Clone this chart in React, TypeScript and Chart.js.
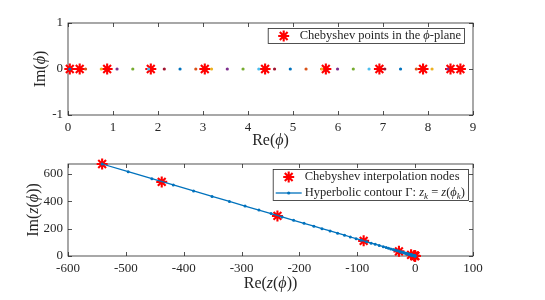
import React, { useEffect, useRef } from 'react';
import { Chart, registerables } from 'chart.js';

Chart.register(...registerables);

// ---------- data ----------
const phiStarsRe = [0.04, 0.26, 0.87, 1.84, 3.04, 4.38, 5.73, 6.92, 7.89, 8.5, 8.72];
const phiStarsIm = [0, 0, 0, 0, 0, 0, 0, 0, 0, 0, 0];
const phiDotsRe = [0.04, 0.39, 0.74, 1.09, 1.44, 1.79, 2.14, 2.49, 2.84, 3.19, 3.54, 3.89, 4.24,
  4.59, 4.94, 5.29, 5.64, 5.99, 6.34, 6.69, 7.04, 7.39, 7.74, 8.09, 8.44];
const phiDotsIm = [0, 0, 0, 0, 0, 0, 0, 0, 0, 0, 0, 0, 0, 0, 0, 0, 0, 0, 0, 0, 0, 0, 0, 0, 0];
const phiXTicks = [0, 1, 2, 3, 4, 5, 6, 7, 8, 9];
const phiYTicks = [-1, 0, 1];

const zStarsRe = [-541, -438, -238, -89, -28, -7, -1.8, -0.6, -0.2, -0.1, -0.1];
const zStarsIm = [673, 542, 293, 111, 34, 8.7, 2.3, 0.7, 0.3, 0.15, 0.1];
const zLineRe = [-541, -496, -455, -418, -383, -351, -321, -294, -270, -249, -230, -210, -192, -175,
  -161, -147, -134, -122, -112, -102, -93, -84, -76, -69, -62, -55, -50, -46, -42, -38, -35, -32,
  -29, -26, -24, -22, -20, -18, -16.5, -15, -13.8, -12.5, -11.5, -10.5, -9.6, -8.7, -8, -7.3, -6.6,
  -6, -5.5, -5, -4.6, -4.2, -3.5, -2.5, -1.8, -1.2, -0.8, -0.5, -0.3, -0.1];
const zLineIm = [673, 617, 566, 520, 476, 436, 399, 365, 336, 310, 286, 261, 239, 218,
  200, 183, 167, 152, 139, 127, 116, 104, 94, 86, 77, 68, 62, 57, 52, 47, 43.5, 40,
  36, 32, 30, 27, 25, 22.4, 20.5, 18.6, 17.2, 15.5, 14.3, 13, 11.9, 10.8, 9.9, 9.1, 8.2,
  7.5, 6.8, 6.2, 5.7, 5.2, 4.4, 3.1, 2.2, 1.5, 1.0, 0.6, 0.4, 0.12];
const zXTicks = [-600, -500, -400, -300, -200, -100, 0, 100];
const zYTicks = [0, 200, 400, 600];

// ---------- style ----------
const FONT = "'Liberation Serif', 'DejaVu Serif', 'Times New Roman', serif";
const AXIS_COLOR = '#262626';
const MATLAB_COLORS = ['#0072BD', '#D95319', '#EDB120', '#7E2F8E', '#77AC30', '#4DBEEE', '#A2142F'];
const RED = '#ff0000';
const BLUE = '#0072BD';
const STAR_R = 5.5;
const STAR_W = 2.1;

type Seg = { t: string; i?: boolean; s?: boolean };

function segFont(seg: Seg, size: number) {
  return `${seg.i ? 'italic ' : ''}${seg.s ? Math.round(size * 0.7) : size}px ${FONT}`;
}
function measureRich(ctx: CanvasRenderingContext2D, segs: Seg[], size: number) {
  let w = 0;
  for (const s of segs) {
    ctx.font = segFont(s, size);
    w += ctx.measureText(s.t).width;
  }
  return w;
}
function drawRich(ctx: CanvasRenderingContext2D, segs: Seg[], x: number, y: number, size: number) {
  ctx.textBaseline = 'middle';
  ctx.textAlign = 'left';
  let cx = x;
  for (const s of segs) {
    ctx.font = segFont(s, size);
    ctx.fillText(s.t, cx, s.s ? y + size * 0.28 : y);
    cx += ctx.measureText(s.t).width;
  }
}
function drawStar(ctx: CanvasRenderingContext2D, x: number, y: number, r: number) {
  ctx.save();
  ctx.strokeStyle = RED;
  ctx.lineWidth = STAR_W;
  ctx.beginPath();
  for (let k = 0; k < 4; k++) {
    const a = (k * Math.PI) / 4;
    ctx.moveTo(x - Math.cos(a) * r, y - Math.sin(a) * r);
    ctx.lineTo(x + Math.cos(a) * r, y + Math.sin(a) * r);
  }
  ctx.stroke();
  ctx.restore();
}

const framePlugin = {
  id: 'matlabFrame',
  beforeDatasetsDraw(chart: any) {
    const { ctx, chartArea: a, scales } = chart;
    ctx.save();
    ctx.strokeStyle = AXIS_COLOR;
    ctx.lineWidth = 0.8;
    ctx.strokeRect(a.left, a.top, a.right - a.left, a.bottom - a.top);
    const tl = 4;
    ctx.beginPath();
    for (const t of scales.x.ticks) {
      const px = Math.round(scales.x.getPixelForValue(t.value)) + 0.5;
      ctx.moveTo(px, a.bottom); ctx.lineTo(px, a.bottom - tl);
      ctx.moveTo(px, a.top); ctx.lineTo(px, a.top + tl);
    }
    for (const t of scales.y.ticks) {
      const py = Math.round(scales.y.getPixelForValue(t.value)) + 0.5;
      ctx.moveTo(a.left, py); ctx.lineTo(a.left + tl, py);
      ctx.moveTo(a.right, py); ctx.lineTo(a.right - tl, py);
    }
    ctx.stroke();
    ctx.restore();
  },
  afterDraw(chart: any, _args: any, opts: any) {
    const { ctx, chartArea: a } = chart;
    ctx.save();
    ctx.fillStyle = AXIS_COLOR;
    // axis titles
    const ts = opts.titleSize;
    const xw = measureRich(ctx, opts.xTitle, ts);
    drawRich(ctx, opts.xTitle, (a.left + a.right) / 2 - xw / 2, opts.xTitleY, ts);
    const yw = measureRich(ctx, opts.yTitle, ts);
    ctx.save();
    ctx.translate(opts.yTitleX, (a.top + a.bottom) / 2);
    ctx.rotate(-Math.PI / 2);
    drawRich(ctx, opts.yTitle, -yw / 2, 0, ts);
    ctx.restore();
    // legend
    const lg = opts.legend;
    const ls = lg.size;
    let tw = 0;
    for (const e of lg.entries) tw = Math.max(tw, measureRich(ctx, e.segs, ls));
    const bw = tw + 35;
    const bh = lg.entries.length * 16 - 1;
    const bx = a.right - lg.right - bw;
    const by = a.top + lg.top;
    ctx.fillStyle = '#ffffff';
    ctx.fillRect(bx, by, bw, bh);
    ctx.strokeStyle = AXIS_COLOR;
    ctx.lineWidth = 0.8;
    ctx.strokeRect(bx + 0.5, by + 0.5, bw, bh);
    lg.entries.forEach((e: any, i: number) => {
      const cy = by + 8 + i * 16;
      if (e.kind === 'star') {
        drawStar(ctx, bx + 16, cy, STAR_R);
      } else {
        ctx.strokeStyle = BLUE;
        ctx.lineWidth = 1.3;
        ctx.beginPath();
        ctx.moveTo(bx + 3, cy);
        ctx.lineTo(bx + 29, cy);
        ctx.stroke();
        ctx.fillStyle = BLUE;
        ctx.beginPath();
        ctx.arc(bx + 16, cy, 1.6, 0, Math.PI * 2);
        ctx.fill();
      }
      ctx.fillStyle = AXIS_COLOR;
      drawRich(ctx, e.segs, bx + 32, cy, ls);
    });
    ctx.restore();
  },
};

function axis(min: number, max: number, ticks: number[], fit: (s: any) => void) {
  return {
    type: 'linear' as const,
    min,
    max,
    afterBuildTicks: (s: any) => { s.ticks = ticks.map((v) => ({ value: v })); },
    afterFit: fit,
    grid: { display: false, drawTicks: false },
    border: { display: false },
    ticks: {
      font: { family: FONT, size: 13 },
      color: AXIS_COLOR,
      padding: 5,
      maxRotation: 0,
      autoSkip: false,
      callback: (v: any) => String(v),
    },
  };
}

function PhiChart() {
  const ref = useRef<HTMLCanvasElement>(null);
  useEffect(() => {
    const chart = new Chart(ref.current!, {
      type: 'scatter',
      data: {
        datasets: [
          {
            label: 'dots',
            data: phiDotsRe.map((x, i) => ({ x, y: phiDotsIm[i] })),
            pointRadius: 1.6,
            pointBackgroundColor: phiDotsRe.map((_, i) => MATLAB_COLORS[i % 7]),
            pointBorderWidth: 0,
            order: 0,
            clip: false as any,
          },
          {
            label: 'Chebyshev points in the phi-plane',
            data: phiStarsRe.map((x, i) => ({ x, y: phiStarsIm[i] })),
            pointStyle: 'star',
            pointRadius: STAR_R,
            pointBorderColor: RED,
            pointBorderWidth: STAR_W,
            order: 1,
            clip: false as any,
          },
        ],
      },
      options: {
        animation: false,
        responsive: false,
        maintainAspectRatio: false,
        events: [],
        layout: { padding: { left: 0, right: 72, top: 23, bottom: 0 } },
        plugins: {
          legend: { display: false },
          tooltip: { enabled: false },
          matlabFrame: {
            titleSize: 16,
            xTitle: [{ t: 'Re(' }, { t: 'ϕ', i: true }, { t: ')' }],
            xTitleY: 141,
            yTitle: [{ t: 'Im(' }, { t: 'ϕ', i: true }, { t: ')' }],
            yTitleX: 41,
            legend: {
              size: 12.5,
              right: 9,
              top: 5,
              entries: [{ kind: 'star', segs: [{ t: 'Chebyshev points in the ' }, { t: 'ϕ', i: true }, { t: '-plane' }] }],
            },
          },
        } as any,
        scales: {
          x: axis(0, 9, phiXTicks, (s: any) => { s.height = 35; }),
          y: axis(-1, 1, phiYTicks, (s: any) => { s.width = 68; }),
        },
      },
      plugins: [framePlugin],
    });
    return () => chart.destroy();
  }, []);
  return <canvas ref={ref} width={545} height={150} style={{ position: 'absolute', left: 0, top: 0, display: 'block' }} />;
}

function ZChart() {
  const ref = useRef<HTMLCanvasElement>(null);
  useEffect(() => {
    const chart = new Chart(ref.current!, {
      type: 'scatter',
      data: {
        datasets: [
          {
            label: 'Hyperbolic contour',
            data: zLineRe.map((x, i) => ({ x, y: zLineIm[i] })),
            showLine: true,
            borderColor: BLUE,
            borderWidth: 1.3,
            pointRadius: 1.5,
            pointBackgroundColor: BLUE,
            pointBorderWidth: 0,
            order: 0,
            clip: false as any,
          },
          {
            label: 'Chebyshev interpolation nodes',
            data: zStarsRe.map((x, i) => ({ x, y: zStarsIm[i] })),
            pointStyle: 'star',
            pointRadius: STAR_R,
            pointBorderColor: RED,
            pointBorderWidth: STAR_W,
            order: 1,
            clip: false as any,
          },
        ],
      },
      options: {
        animation: false,
        responsive: false,
        maintainAspectRatio: false,
        events: [],
        layout: { padding: { left: 0, right: 72, top: 14, bottom: 0 } },
        plugins: {
          legend: { display: false },
          tooltip: { enabled: false },
          matlabFrame: {
            titleSize: 16,
            xTitle: [{ t: 'Re(' }, { t: 'z', i: true }, { t: '(' }, { t: 'ϕ', i: true }, { t: '))' }],
            xTitleY: 134,
            yTitle: [{ t: 'Im(' }, { t: 'z', i: true }, { t: '(' }, { t: 'ϕ', i: true }, { t: '))' }],
            yTitleX: 34,
            legend: {
              size: 12.5,
              right: 5,
              top: 5,
              entries: [
                { kind: 'star', segs: [{ t: 'Chebyshev interpolation nodes' }] },
                {
                  kind: 'line',
                  segs: [
                    { t: 'Hyperbolic contour Γ: ' },
                    { t: 'z', i: true },
                    { t: 'k', i: true, s: true },
                    { t: ' = ' },
                    { t: 'z', i: true },
                    { t: '(' },
                    { t: 'ϕ', i: true },
                    { t: 'k', i: true, s: true },
                    { t: ')' },
                  ],
                },
              ],
            },
          },
        } as any,
        scales: {
          x: axis(-600, 100, zXTicks, (s: any) => { s.height = 44; }),
          y: axis(0, 673, zYTicks, (s: any) => { s.width = 68; }),
        },
      },
      plugins: [framePlugin],
    });
    return () => chart.destroy();
  }, []);
  return <canvas ref={ref} width={545} height={150} style={{ position: 'absolute', left: 0, top: 150, display: 'block' }} />;
}

export default function App() {
  return (
    <div style={{ position: 'fixed', left: 0, top: 0, width: 545, height: 300, background: '#ffffff' }}>
      <PhiChart />
      <ZChart />
    </div>
  );
}
